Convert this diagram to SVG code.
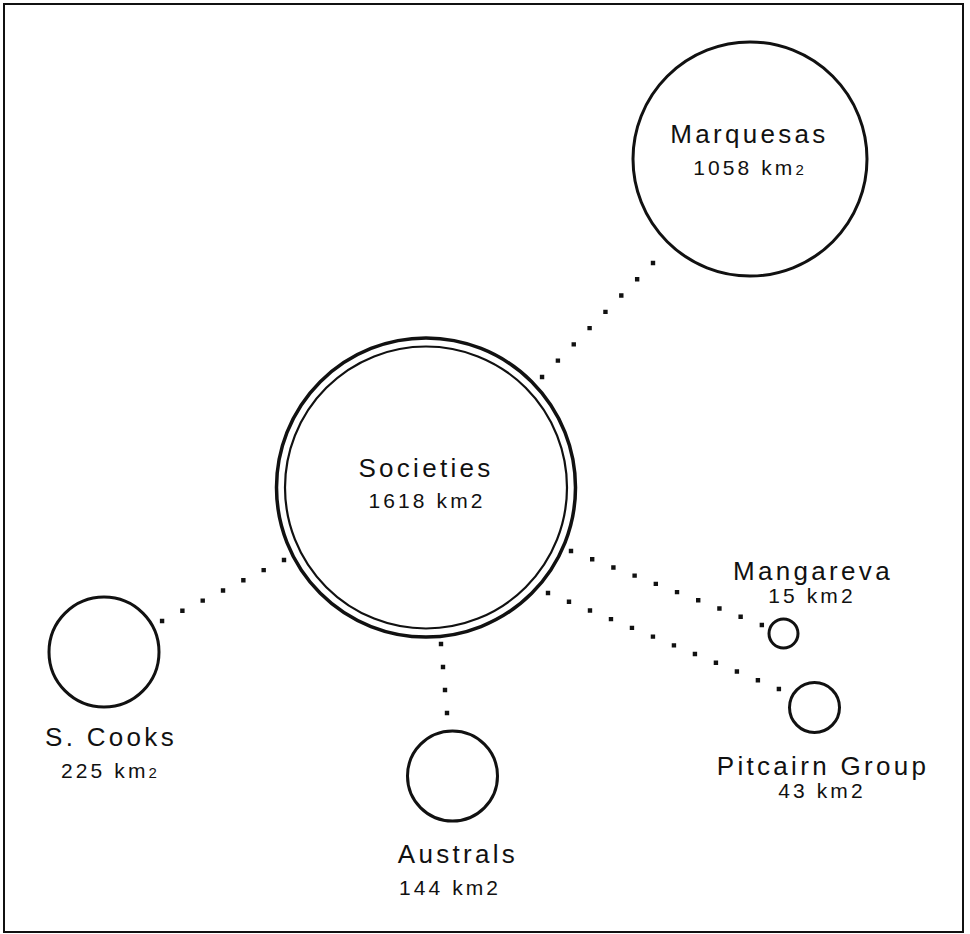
<svg xmlns="http://www.w3.org/2000/svg" width="970" height="934" viewBox="0 0 970 934">
<style>
.bg{fill:#fff}
.frame{fill:none;stroke:#111;stroke-width:2}
.isl{fill:#fff;stroke:#111;stroke-width:3}
.dots{fill:none;stroke:#111;stroke-width:4.4;stroke-linecap:square}
.name{font-family:"Liberation Sans",Arial,sans-serif;font-size:26px;letter-spacing:3.3px;fill:#111;text-anchor:middle}
.area{font-family:"Liberation Sans",Arial,sans-serif;font-size:21px;letter-spacing:3.1px;fill:#111;text-anchor:middle}
.sm{font-size:15px}
</style>
<rect class="bg" x="0" y="0" width="970" height="934"/>
<rect class="frame" x="4" y="4" width="959" height="928"/>
<g id="connectors">
<path class="dots" d="M653,263 L542,377" stroke-dasharray="0 22.72"/>
<path class="dots" d="M284,560 L162,621" stroke-dasharray="0 22.72"/>
<path class="dots" d="M441,644 L447,713" stroke-dasharray="0 23.08"/>
<path class="dots" d="M571,551 L762,625" stroke-dasharray="0 22.74"/>
<path class="dots" d="M548,593 L779,689" stroke-dasharray="0 22.73"/>
</g>
<g id="marquesas">
<circle class="isl" cx="750" cy="159" r="117"/>
<text class="name" x="749.5" y="143">Marquesas</text>
<text class="area" x="750" y="175">1058 km<tspan class="sm">2</tspan></text>
</g>
<g id="societies">
<circle class="isl" cx="426" cy="487.5" r="149.5" style="stroke-width:3.5"/>
<circle class="isl" cx="426" cy="487.5" r="141" style="stroke-width:2.2;fill:none"/>
<text class="name" x="426" y="477">Societies</text>
<text class="area" x="427" y="508">1618 km2</text>
</g>
<g id="scooks">
<circle class="isl" cx="104" cy="652" r="55"/>
<text class="name" x="111" y="746">S. Cooks</text>
<text class="area" x="110.5" y="778">225 km<tspan class="sm">2</tspan></text>
</g>
<g id="australs">
<circle class="isl" cx="452.5" cy="776" r="45"/>
<text class="name" x="458" y="863">Australs</text>
<text class="area" x="450" y="895">144 km2</text>
</g>
<g id="mangareva">
<circle class="isl" cx="783.5" cy="633.5" r="14.5"/>
<text class="name" x="813" y="580">Mangareva</text>
<text class="area" x="812" y="603">15 km2</text>
</g>
<g id="pitcairn">
<circle class="isl" cx="814.5" cy="707.5" r="25"/>
<text class="name" x="823" y="775">Pitcairn Group</text>
<text class="area" x="822" y="798">43 km2</text>
</g>
</svg>
